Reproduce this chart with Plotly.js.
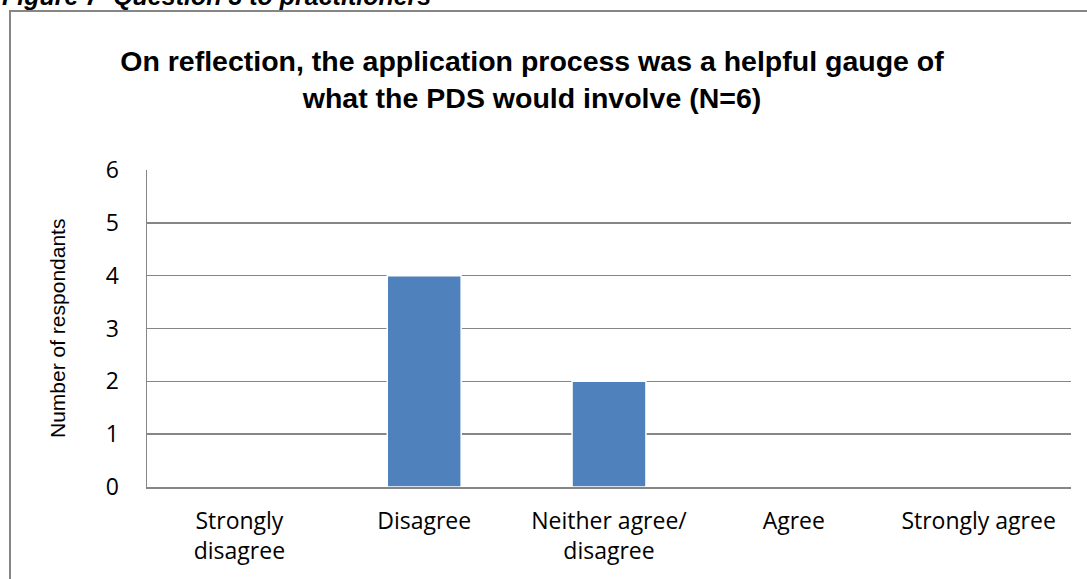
<!DOCTYPE html>
<html>
<head>
<meta charset="utf-8">
<script src="https://cdn.plot.ly/plotly-3.0.1.min.js"></script>
<style>html,body{margin:0;padding:0;background:#fff;}#chart{width:1087px;height:579px;}</style>
</head>
<body>
<div id="chart"></div>
<script>
const categories = ["Strongly<br>disagree", "Disagree", "Neither agree/<br>disagree", "Agree", "Strongly agree"];
const respondents = [0, 4, 2, 0, 0];
const yTicks = [0, 1, 2, 3, 4, 5, 6];
const chartTitle = "On reflection, the application process was a helpful gauge of<br>what the PDS would involve (N=6)";
const yTitle = "Number of respondants";
const caption = "Figure 7  Question 3 to practitioners";

const W = 1087, H = 579, L = 147, R = 16, T = 170, B = 92;
const pw = W - L - R, ph = H - T - B;
const px = x => (x - L) / pw;
const py = y => (H - B - y) / ph;

const tickFont = {family: 'Open Sans, Noto Sans, sans-serif', size: 23, color: '#000'};

const trace = {
  type: 'bar',
  x: categories,
  y: respondents,
  width: 0.4,
  marker: {color: '#4F81BD', line: {color: '#ffffff', width: 1.5}},
  hoverinfo: 'skip'
};

const layout = {
  width: W, height: H,
  margin: {l: L, r: R, t: T, b: B},
  paper_bgcolor: '#ffffff',
  plot_bgcolor: '#ffffff',
  showlegend: false,
  title: {
    text: '<b>' + chartTitle + '</b>',
    font: {family: 'Liberation Sans, Arial, sans-serif', size: 28.5, color: '#000'},
    x: 532 / W, xanchor: 'center',
    y: 1 - 71 / H, yanchor: 'middle',
    xref: 'container', yref: 'container'
  },
  xaxis: {
    type: 'category',
    showgrid: false,
    showline: true, linecolor: '#868686', linewidth: 2,
    ticks: '', ticklabelstandoff: 12,
    tickfont: tickFont,
    fixedrange: true
  },
  yaxis: {
    range: [0, 6],
    tickvals: yTicks,
    ticktext: yTicks.map(String),
    showgrid: true, gridcolor: '#868686', gridwidth: 1.5,
    showline: true, linecolor: '#868686', linewidth: 1.5,
    zeroline: false,
    ticks: '', ticklabelstandoff: 22,
    tickfont: tickFont,
    fixedrange: true
  },
  annotations: [
    {
      text: yTitle, textangle: -90, showarrow: false,
      xref: 'paper', yref: 'paper', x: px(57), y: py(329),
      xanchor: 'center', yanchor: 'middle',
      font: {family: 'Liberation Sans, Arial, sans-serif', size: 21, color: '#000'}
    },
    {
      text: '<b><i>' + caption + '</i></b>', showarrow: false,
      xref: 'paper', yref: 'paper', x: px(0), y: py(12),
      xanchor: 'left', yanchor: 'bottom',
      font: {family: 'Liberation Sans, Arial, sans-serif', size: 25, color: '#000'}
    }
  ],
  shapes: [
    {
      type: 'rect', xref: 'paper', yref: 'paper',
      x0: px(10), x1: px(1100), y0: py(11), y1: py(600),
      line: {color: '#868686', width: 2}, fillcolor: 'rgba(0,0,0,0)', layer: 'below'
    }
  ]
};

Plotly.newPlot('chart', [trace], layout, {staticPlot: true, displayModeBar: false});
</script>
</body>
</html>
